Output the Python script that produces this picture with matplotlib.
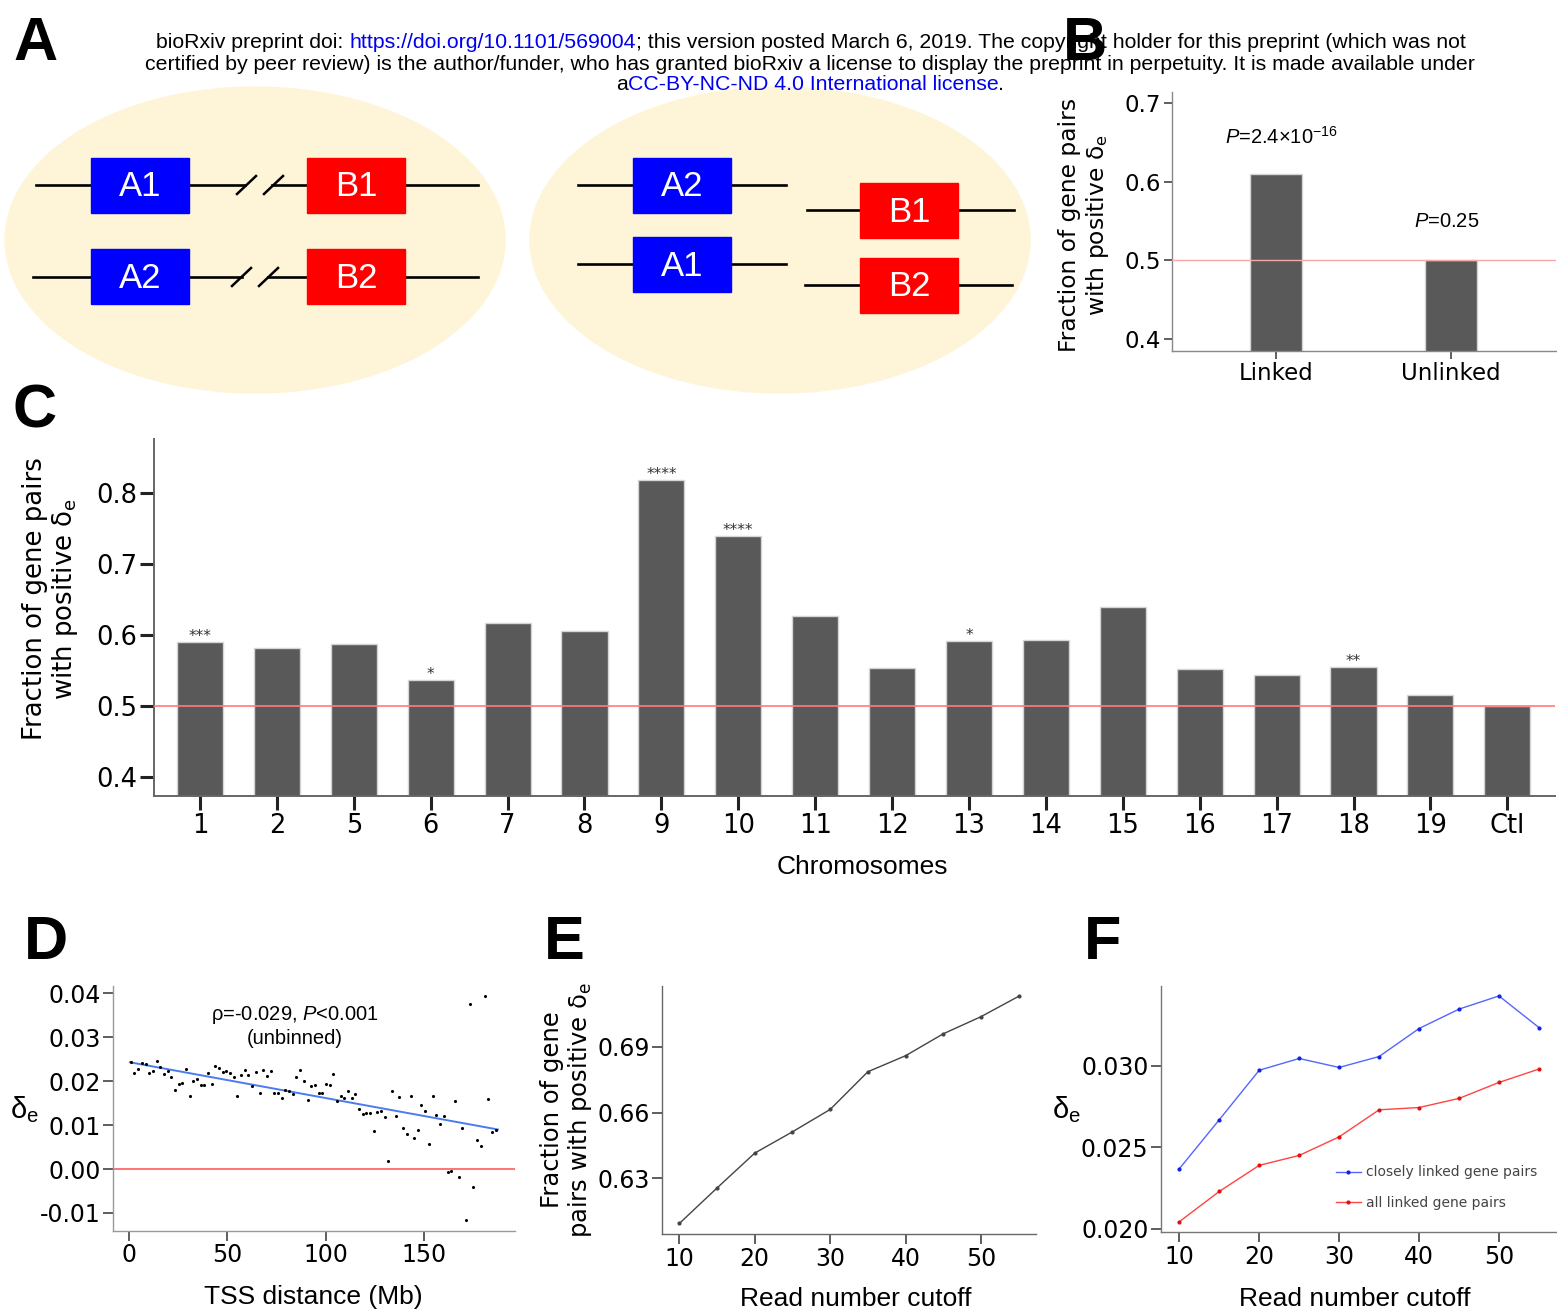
import numpy as np
import matplotlib
matplotlib.use("Agg")
import matplotlib.pyplot as plt
from matplotlib.patches import Ellipse, Rectangle

plt.rcParams["font.family"] = "DejaVu Sans"
plt.rcParams["mathtext.fontset"] = "custom"
plt.rcParams["mathtext.rm"] = "Liberation Sans"
plt.rcParams["mathtext.it"] = "Liberation Sans:italic"
plt.rcParams["mathtext.bf"] = "Liberation Sans:bold"
ARIAL = "Liberation Sans"

# ---- data ----
# B: linked vs unlinked
b_groups = ["Linked", "Unlinked"]
b_frac = [0.610, 0.501]
b_pvals = [r"$\mathit{P}$=2.4×10$^{-16}$", r"$\mathit{P}$=0.25"]

# C: per chromosome
chroms = ["1", "2", "5", "6", "7", "8", "9", "10", "11", "12", "13", "14",
          "15", "16", "17", "18", "19", "Ctl"]
chrom_frac = [0.590, 0.581, 0.587, 0.536, 0.617, 0.605, 0.818, 0.739, 0.627,
              0.554, 0.591, 0.593, 0.639, 0.552, 0.543, 0.555, 0.515, 0.500]
chrom_stars = ["***", "", "", "*", "", "", "****", "****", "", "", "*", "",
               "", "", "", "**", "", ""]

# D: binned delta_e vs TSS distance
tss_mb = [0.8, 2.7, 4.7, 6.4, 8.5, 10.2, 12.2, 14.1, 15.9, 17.8, 19.7, 21.5,
          23.4, 25.3, 27.1, 29.0, 30.8, 32.7, 34.6, 36.4, 38.3, 40.2, 42.0,
          43.9, 45.8, 47.6, 49.5, 51.4, 53.2, 55.1, 56.9, 58.8, 60.7, 62.7,
          64.6, 66.4, 68.3, 70.2, 72.0, 73.9, 75.8, 77.6, 79.5, 81.4, 83.2,
          85.1, 86.9, 88.8, 90.8, 92.7, 94.6, 96.4, 98.3, 100.2, 102.0, 103.9,
          105.8, 107.6, 109.5, 111.4, 113.2, 115.1, 116.9, 118.8, 120.7, 122.5,
          124.4, 126.3, 128.1, 130.0, 131.9, 133.7, 135.6, 137.5, 139.3, 141.2,
          143.1, 144.9, 146.8, 148.6, 150.7, 152.5, 154.4, 156.3, 158.1, 160.0,
          161.9, 163.7, 165.6, 167.6, 169.5, 171.4, 173.2, 175.1, 176.9, 178.8,
          180.7, 182.5, 184.4, 186.3]
delta_e = [0.0243, 0.0219, 0.0227, 0.0242, 0.0238, 0.0218, 0.0224, 0.0246,
           0.0232, 0.0217, 0.0223, 0.0210, 0.0180, 0.0194, 0.0195, 0.0228,
           0.0167, 0.0200, 0.0204, 0.0191, 0.0191, 0.0219, 0.0194, 0.0235,
           0.0229, 0.0222, 0.0224, 0.0219, 0.0209, 0.0166, 0.0214, 0.0225,
           0.0214, 0.0188, 0.0220, 0.0174, 0.0225, 0.0212, 0.0224, 0.0172,
           0.0172, 0.0161, 0.0181, 0.0178, 0.0171, 0.0209, 0.0225, 0.0200,
           0.0157, 0.0188, 0.0192, 0.0172, 0.0172, 0.0194, 0.0191, 0.0216,
           0.0156, 0.0166, 0.0161, 0.0177, 0.0161, 0.0171, 0.0136, 0.0125,
           0.0127, 0.0127, 0.0087, 0.0129, 0.0133, 0.0119, 0.0019, 0.0178,
           0.0121, 0.0163, 0.0093, 0.0079, 0.0166, 0.0071, 0.0088, 0.0146,
           0.0132, 0.0056, 0.0166, 0.0123, 0.0102, 0.0121, -0.0007, -0.0004,
           0.0156, -0.0018, 0.0093, -0.0116, 0.0375, -0.0040, 0.0065, 0.0052,
           0.0394, 0.0159, 0.0085, 0.0089]
fit_x = [0.5, 187.5]
fit_y = [0.0243, 0.0090]

# E / F: read number cutoff
cutoff = [10, 15, 20, 25, 30, 35, 40, 45, 50, 55]
frac_pos = [0.6094, 0.6256, 0.6415, 0.6512, 0.6614, 0.6786, 0.6859, 0.6959,
            0.7037, 0.7130]
close_de = [0.02368, 0.02669, 0.02973, 0.03045, 0.02990, 0.03057, 0.03229,
            0.03348, 0.03429, 0.03235]
all_de = [0.02043, 0.02229, 0.02389, 0.02450, 0.02564, 0.02730, 0.02744,
          0.02800, 0.02898, 0.02980]

# ---- figure ----
W, H = 1557, 1312
fig = plt.figure(figsize=(W / 100, H / 100), dpi=100)


def px_axes(x0, y0, x1, y1):
    return fig.add_axes([x0 / W, 1 - y1 / H, (x1 - x0) / W, (y1 - y0) / H])


def style(ax, spine="#777777", sw=1.1):
    for s in ["top", "right"]:
        ax.spines[s].set_visible(False)
    for s in ["left", "bottom"]:
        ax.spines[s].set_color(spine)
        ax.spines[s].set_linewidth(sw)


# overlay for panel A drawing, header, panel letters, labels
ov = fig.add_axes([0, 0, 1, 1])
ov.set_xlim(0, W)
ov.set_ylim(H, 0)
ov.axis("off")

# panel A schematic
cream = "#FEF5D8"
ov.add_patch(Ellipse((255, 240), 500, 306, color=cream, zorder=0))
ov.add_patch(Ellipse((780, 240), 500, 306, color=cream, zorder=0))

genes_left = [("A1", 91, 158, "blue"), ("B1", 307, 158, "red"),
              ("A2", 91, 249, "blue"), ("B2", 307, 249, "red")]
genes_right = [("A2", 633, 158, "blue"), ("A1", 633, 237, "blue"),
               ("B1", 860, 183, "red"), ("B2", 860, 258, "red")]
for name, x, y, c in genes_left + genes_right:
    ov.add_patch(Rectangle((x, y), 98, 55, color=c, zorder=2))
    ov.text(x + 49, y + 29, name, color="white", fontsize=25, family=ARIAL,
            ha="center", va="center", zorder=3)

seg_lw = 1.9
# left ellipse, linked genes with break marks
for yl, l0, g0, g1, s1, s2 in [(185, 36, 245, 272, 237, 264),
                               (277, 33, 242, 268, 232, 259)]:
    ov.plot([l0, 91], [yl, yl], color="black", lw=seg_lw, zorder=1)
    ov.plot([189, g0], [yl, yl], color="black", lw=seg_lw, zorder=1)
    ov.plot([g1, 307], [yl, yl], color="black", lw=seg_lw, zorder=1)
    ov.plot([405, 478], [yl, yl], color="black", lw=seg_lw, zorder=1)
    for sx in (s1, s2):
        ov.plot([sx, sx + 19], [yl + 9, yl - 9], color="black", lw=1.8, zorder=1)
# right ellipse, unlinked genes
for yl, a, b in [(185, 578, 786), (264, 578, 786)]:
    ov.plot([a, 633], [yl, yl], color="black", lw=seg_lw, zorder=1)
    ov.plot([731, b], [yl, yl], color="black", lw=seg_lw, zorder=1)
for yl, a, b in [(210, 807, 1014), (285, 805, 1012)]:
    ov.plot([a, 860], [yl, yl], color="black", lw=seg_lw, zorder=1)
    ov.plot([958, b], [yl, yl], color="black", lw=seg_lw, zorder=1)

# header (multicoloured lines)
renderer = fig.canvas.get_renderer()
hdr_kw = dict(fontsize=15.3, family=ARIAL)


def text_w(s):
    t = ov.text(0, 0, s, **hdr_kw)
    w = t.get_window_extent(renderer).width
    t.remove()
    return w


def rich_line(xc, y, parts):
    total = text_w("".join(p for p, _ in parts))
    x0 = xc - total / 2
    pre = ""
    for s, c in parts:
        off = text_w(pre + "I") - text_w("I") if pre else 0
        ov.text(x0 + off, y, s, color=c, ha="left", va="center", zorder=10, **hdr_kw)
        pre += s


link = "#0000EE"
rich_line(811, 42, [("bioRxiv preprint doi: ", "black"),
                    ("https://doi.org/10.1101/569004", link),
                    ("; this version posted March 6, 2019. The copyright holder for "
                     "this preprint (which was not", "black")])
rich_line(810, 64, [("certified by peer review) is the author/funder, who has granted "
                     "bioRxiv a license to display the preprint in perpetuity. It is "
                     "made available under", "black")])
rich_line(810, 85, [("a", "black"), ("CC-BY-NC-ND 4.0 International license", link),
                    (".", "black")])

for letter, x, y in [("A", 13, 60), ("B", 1063, 60), ("C", 13, 428),
                     ("D", 24, 959), ("E", 544, 959), ("F", 1084, 959)]:
    ov.text(x, y, letter, fontsize=44, fontweight="bold", family=ARIAL,
            ha="left", va="baseline", zorder=11)

# ---- panel B ----
axB = px_axes(1172, 92, 1556, 351)
xb = np.arange(len(b_groups))
axB.bar(xb, b_frac, width=0.3, color="#595959", edgecolor="#d5d5d5", lw=1, zorder=2)
axB.axhline(0.5, color="#F6A9A9", lw=1, zorder=3)
axB.set_xlim(-0.594, 1.6)
axB.set_ylim(0.385, 0.714)
axB.set_xticks(xb)
axB.set_xticklabels(b_groups)
axB.set_yticks([0.4, 0.5, 0.6, 0.7])
style(axB, "#888888", 1.0)
axB.tick_params(length=6, width=1.1, color="#333333", labelsize=16.5, pad=2)
for xi, txt, yy in zip(xb, b_pvals, [0.657, 0.55]):
    axB.text(xi + (0.03 if xi == 0 else -0.023), yy, txt, family=ARIAL,
             fontsize=14.5, ha="center", va="center")
ov.text(1085, 225, "Fraction of gene pairs\nwith positive δ$_\\mathrm{e}$",
        rotation=90, ha="center", va="center", multialignment="center",
        fontsize=16.8, math_fontfamily="dejavusans", linespacing=1.15)

# ---- panel C ----
axC = px_axes(154, 439, 1555, 796)
xc = np.arange(len(chroms))
axC.bar(xc, chrom_frac, width=0.6, color="#595959", edgecolor="#d5d5d5", lw=1, zorder=2)
axC.axhline(0.5, color="#FF7B7B", lw=1.2, zorder=3)
for xi, v, s in zip(xc, chrom_frac, chrom_stars):
    if s:
        axC.text(xi, v - 0.003, s, ha="center", va="bottom", fontsize=11, color="#333333")
axC.set_xlim(-0.598, 17.62)
axC.set_ylim(0.373, 0.876)
axC.set_xticks(xc)
axC.set_xticklabels(chroms)
axC.set_yticks([0.4, 0.5, 0.6, 0.7, 0.8])
style(axC, "#666666", 1.4)
axC.tick_params(length=10, width=2.2, color="#222222", labelsize=18.5, pad=2)
ov.text(51, 599, "Fraction of gene pairs\nwith positive δ$_\\mathrm{e}$",
        rotation=90, ha="center", va="center", multialignment="center",
        fontsize=18.7, math_fontfamily="dejavusans", linespacing=1.12)
ov.text(862, 867, "Chromosomes", family=ARIAL, fontsize=19, ha="center", va="center")

# ---- panel D ----
axD = px_axes(113, 986, 515, 1231)
axD.axhline(0, color="#FF4D4D", lw=1.1, zorder=1)
axD.scatter(tss_mb, delta_e, s=5, color="black", zorder=3, linewidths=0)
axD.plot(fit_x, fit_y, color="#4A7BF0", lw=1.4, zorder=2)
axD.set_xlim(-8.1, 196.2)
axD.set_ylim(-0.0141, 0.04166)
axD.set_xticks([0, 50, 100, 150])
axD.set_yticks([-0.01, 0.0, 0.01, 0.02, 0.03, 0.04])
axD.set_yticklabels(["-0.01", "0.00", "0.01", "0.02", "0.03", "0.04"])
style(axD, "#999999", 1.0)
axD.tick_params(length=7, width=1.1, color="#333333", labelsize=17, pad=2)
axD.text(84.4, 0.0325, "ρ=-0.029, $\\mathit{P}$<0.001\n(unbinned)", family=ARIAL,
         fontsize=14.5, ha="center", va="center", multialignment="center")
ov.text(24, 1110, "δ$_\\mathrm{e}$", family=ARIAL, fontsize=21, ha="center", va="center")
ov.text(313, 1297, "TSS distance (Mb)", family=ARIAL, fontsize=19, ha="center", va="center")

# ---- panel E ----
axE = px_axes(662, 986, 1036, 1234)
axE.plot(cutoff, frac_pos, color="#444444", lw=1, marker="o", ms=2)
axE.set_xlim(7.7, 57.3)
axE.set_ylim(0.6046, 0.7177)
axE.set_xticks([10, 20, 30, 40, 50])
axE.set_yticks([0.63, 0.66, 0.69])
style(axE, "#666666", 1.0)
axE.tick_params(length=7, width=1.1, color="#333333", labelsize=17, pad=2)
ov.text(567, 1110, "Fraction of gene\npairs with positive δ$_\\mathrm{e}$",
        rotation=90, ha="center", va="center", multialignment="center",
        fontsize=17.5, math_fontfamily="dejavusans", linespacing=1.1)
ov.text(856, 1299, "Read number cutoff", family=ARIAL, fontsize=19, ha="center", va="center")

# ---- panel F ----
axF = px_axes(1161, 986, 1557, 1232)
axF.plot(cutoff, close_de, color="#5566FF", lw=1, marker="o", ms=2,
         mfc="#1122DD", mec="#1122DD", label="closely linked gene pairs")
axF.plot(cutoff, all_de, color="#FF4444", lw=1, marker="o", ms=2,
         mfc="#DD1111", mec="#DD1111", label="all linked gene pairs")
axF.set_xlim(7.71, 57.26)
axF.set_ylim(0.0198, 0.0349)
axF.set_xticks([10, 20, 30, 40, 50])
axF.set_yticks([0.020, 0.025, 0.030])
axF.set_yticklabels(["0.020", "0.025", "0.030"])
style(axF, "#777777", 1.0)
axF.tick_params(length=7, width=1.1, color="#333333", labelsize=17, pad=2)
axF.legend(loc="upper left", bbox_to_anchor=(0.427, 0.293), frameon=False,
           fontsize=10, labelcolor="#444444", handlelength=1.8, labelspacing=1.2,
           borderaxespad=0, handletextpad=0.4)
ov.text(1066, 1110, "δ$_\\mathrm{e}$", family=ARIAL, fontsize=21, ha="center", va="center")
ov.text(1355, 1299, "Read number cutoff", family=ARIAL, fontsize=19, ha="center", va="center")

fig.savefig("out.png", dpi=100)
